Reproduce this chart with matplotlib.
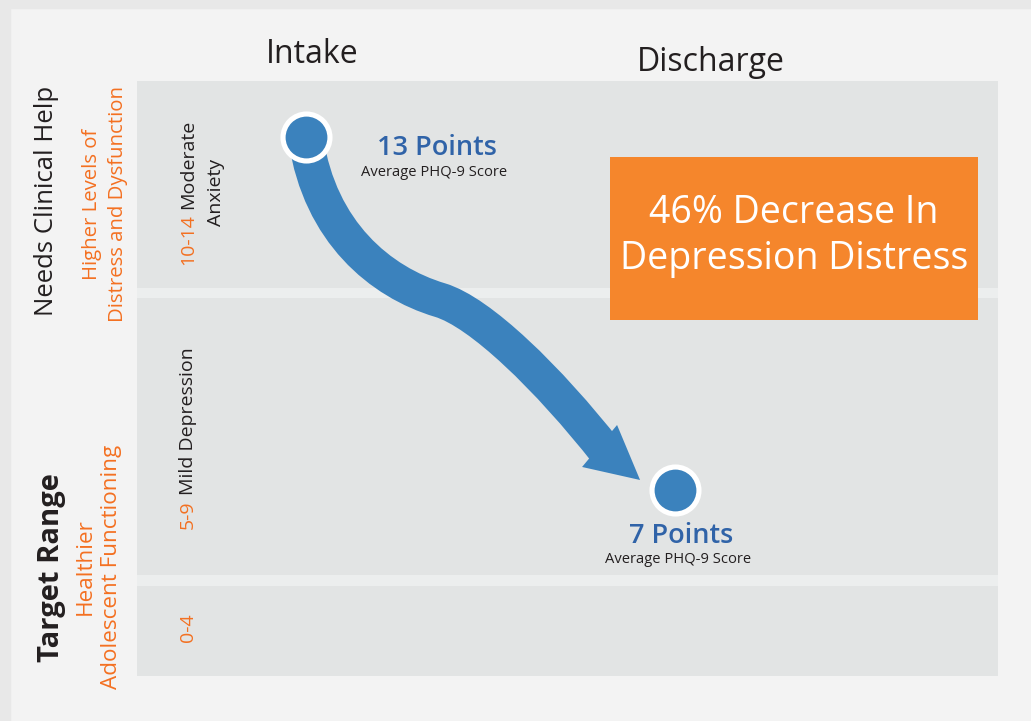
import numpy as np
import matplotlib.pyplot as plt
from matplotlib.patches import Rectangle, Polygon, PathPatch
from matplotlib.path import Path

# ---- data -------------------------------------------------------------
stages = ['Intake', 'Discharge']
avg_scores = [13, 7]
score_caption = 'Average PHQ-9 Score'
band_ranges = ['10-14', '5-9', '0-4']
band_names = ['Moderate', 'Mild Depression', '']
band_second_line = ['Anxiety', '', '']
group_titles = ['Needs Clinical Help', 'Target Range']
group_notes = ['Higher Levels of\nDistress and Dysfunction',
               'Healthier\nAdolescent Functioning']

pct_drop = round((avg_scores[0] - avg_scores[1]) / avg_scores[0] * 100)
headline = f'{pct_drop}% Decrease In\nDepression Distress'

# ---- style ------------------------------------------------------------
BLUE = '#3b82bd'
BLUE_TXT = '#3063a8'
ORANGE_TXT = '#f37021'
ORANGE_BOX = '#f5862c'
DARK = '#231f20'
BAND = '#e2e4e4'
SEP = '#eceeee'
BG = '#f3f3f3'
EDGE = '#e8e8e8'

plt.rcParams['font.family'] = ['Open Sans', 'DejaVu Sans']

W, H = 1031, 721
def fx(x):
    return x / W
def fy(y):
    return 1 - y / H

fig = plt.figure(figsize=(W / 100, H / 100), dpi=100, facecolor=BG)
fig.patches.append(Rectangle((0, fy(8)), 1, 8 / H, transform=fig.transFigure,
                             color=EDGE, zorder=0))
fig.patches.append(Rectangle((0, 0), 10 / W, 1, transform=fig.transFigure,
                             color=EDGE, zorder=0))

# plot area = the grey bands
ax = fig.add_axes([fx(137), fy(676), (998 - 137) / W, (676 - 81) / H])
ax.set_facecolor(BAND)
for s in ax.spines.values():
    s.set_visible(False)
ax.set_xticks([])
ax.set_yticks([])
ax.set_xlim(-0.458, 1.875)
ax.set_ylim(3.838, 13.952)

# white gaps between the score bands
ax.axhspan(10.26, 10.43, color=SEP, lw=0)
ax.axhspan(5.368, 5.555, color=SEP, lw=0)

# ---- curved arrow from intake to discharge ----------------------------
p0 = ax.transData.transform((0, avg_scores[0]))
p1 = ax.transData.transform((1, avg_scores[1]))
span = p1 - p0

def along(a, b):
    return p0 + span * np.array([a, b])

shaft = [along(0, 0.0085), along(0.038, 0.269), along(0.2005, 0.411), along(0.363, 0.462),
         along(0.4715, 0.4958), along(0.6558, 0.6827), along(0.8157, 0.8952)]
shaft = ax.transData.inverted().transform(np.array(shaft))
codes = [Path.MOVETO] + [Path.CURVE4] * 6
ax.add_patch(PathPatch(Path(shaft, codes), fill=False, edgecolor=BLUE, lw=25.2,
                       capstyle='butt', joinstyle='round', zorder=3))
head = [along(0.9051, 0.9717), along(0.748, 0.9348), along(0.8428, 0.8159)]
head = ax.transData.inverted().transform(np.array(head))
ax.add_patch(Polygon(head, closed=True, facecolor=BLUE, edgecolor='none', zorder=3))

# score points
ax.plot(range(len(stages)), avg_scores, 'o', ms=33.8, mfc=BLUE, mec='white',
        mew=3.7, zorder=5, clip_on=False)

# point labels
label_offsets = [((131, -18), (128, -39)), ((6, -53), (3, -73))]
for i, score in enumerate(avg_scores):
    (a, b), (c, d) = label_offsets[i]
    ax.annotate(f'{score} Points', (i, score), xytext=(a, b), textcoords='offset pixels',
                ha='center', va='baseline', fontsize=19.5, fontweight='semibold',
                color=BLUE_TXT, zorder=6)
    ax.annotate(score_caption, (i, score), xytext=(c, d), textcoords='offset pixels',
                ha='center', va='baseline', fontsize=10.6, color=DARK, zorder=6)

# headline box
ax.add_patch(Rectangle((0.5494, 0.5983), 0.4274, 0.274, transform=ax.transAxes,
                       color=ORANGE_BOX, lw=0, zorder=4))
ax.text(0.763, 0.7395, headline, transform=ax.transAxes, ha='center', va='center',
        fontsize=27, color='white', linespacing=1.3, zorder=6)

# ---- column headers ---------------------------------------------------
fig.text(fx(312), fy(63), stages[0], ha='center', va='baseline', fontsize=23, color=DARK)
fig.text(fx(711), fy(71), stages[1], ha='center', va='baseline', fontsize=23, color=DARK)

# ---- left side group labels -------------------------------------------
fig.text(fx(47), fy(201), group_titles[0], rotation=90, ha='center', va='center',
         fontsize=18.5, color=DARK)
fig.text(fx(105), fy(204), group_notes[0], rotation=90, ha='center', va='center',
         fontsize=14.7, color=ORANGE_TXT, multialignment='center', linespacing=1.45)
fig.text(fx(52), fy(568), group_titles[1], rotation=90, ha='center', va='center',
         fontsize=21, fontweight='bold', color=DARK)
fig.text(fx(98.5), fy(567), group_notes[1], rotation=90, ha='center', va='center',
         fontsize=16.2, color=ORANGE_TXT, multialignment='center', linespacing=1.3)

# ---- band labels (orange range + dark name, vertical) -----------------
renderer = fig.canvas.get_renderer()

def text_len(s, size):
    t = fig.text(0, 0, s, fontsize=size)
    w = t.get_window_extent(renderer).width
    t.remove()
    return w

def vertical_pair(x_base, y_mid, first, second, size=14):
    full = first + (' ' + second if second else '')
    total = text_len(full, size)
    kw = dict(rotation=90, rotation_mode='anchor', va='baseline', fontsize=size)
    fig.text(fx(x_base), fy(y_mid + total / 2), first, ha='left', color=ORANGE_TXT, **kw)
    if second:
        fig.text(fx(x_base), fy(y_mid - total / 2), second, ha='right', color=DARK, **kw)

band_mid = [192.5, 438, 628]
for i in range(len(band_ranges)):
    vertical_pair(193, band_mid[i], band_ranges[i], band_names[i])
    if band_second_line[i]:
        fig.text(fx(221), fy(band_mid[i]), band_second_line[i], rotation=90,
                 rotation_mode='anchor', ha='center', va='baseline', fontsize=14, color=DARK)

fig.savefig('out.png', dpi=100, facecolor=BG)
